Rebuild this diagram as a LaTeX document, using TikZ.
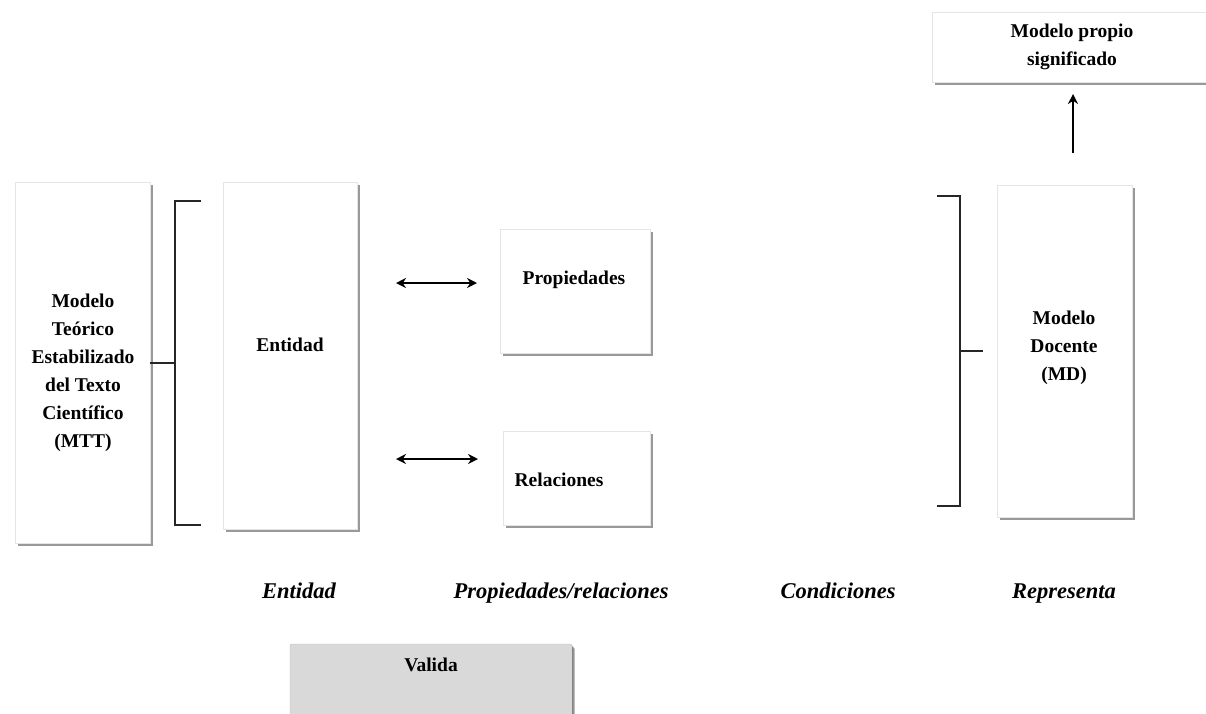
\documentclass[tikz,border=0pt]{standalone}
\usepackage{fontspec}
\setmainfont{Liberation Serif}
\usetikzlibrary{arrows.meta,shadows}
\definecolor{validagray}{HTML}{D9D9D9}
\tikzset{
  box/.style={draw=black!10, line width=0.4pt, fill=white, anchor=north west, inner sep=0pt, outer sep=0pt,
    drop shadow={shadow xshift=2.5pt, shadow yshift=-3pt, fill=black, opacity=0.4}},
  txt/.style={font=\bfseries\fontsize{19.5}{28}\selectfont, align=center, inner sep=0pt},
  lab/.style={font=\bfseries\itshape\fontsize{22.5}{26}\selectfont, inner sep=0pt, anchor=base},
  brk/.style={draw=black!85, line width=1.3pt},
  dbl/.style={line width=2.2pt, {Stealth[length=10pt,width=10pt]}-{Stealth[length=10pt,width=10pt]}},
  upar/.style={line width=2.2pt, -{Stealth[length=10pt,width=10pt]}}
}
\begin{document}
\begin{tikzpicture}[x=1pt,y=-1pt]
\clip (0,0) rectangle (1206,713);
\fill[white] (0,0) rectangle (1206,713);
% boxes
\node[box, minimum width=135pt, minimum height=361pt] (mtt) at (15,182) {};
\node[box, minimum width=134pt, minimum height=347pt] (ent) at (223,182) {};
\node[box, minimum width=150pt, minimum height=124pt] (prop) at (500,229) {};
\node[box, minimum width=147pt, minimum height=94pt] (rel) at (503,431) {};
\node[box, minimum width=135pt, minimum height=332pt] (md) at (997,185) {};
\node[box, minimum width=290pt, minimum height=70pt] (mps) at (932,12) {};
\node[box, fill=validagray, draw=black!25, rounded corners=2pt, minimum width=282pt, minimum height=100pt,
  drop shadow={shadow xshift=1.2pt, shadow yshift=-1.2pt, fill=black, opacity=0.25}] (val) at (290,644) {};
% texts
\node[txt] (tmtt) at (83,373) {Modelo\\Teórico\\Estabilizado\\del Texto\\Científico\\(MTT)};
\node[txt] (tent) at (290,345) {Entidad};
\node[txt] (tprop) at (574,280) {Propiedades};
\node[txt] (trel) at (559,480) {Relaciones};
\node[txt] (tmd) at (1064,348) {Modelo\\Docente\\(MD)};
\node[txt] (tmps) at (1072,47) {Modelo propio\\significado};
\node[txt] (tval) at (431,665) {Valida};
% bottom labels
\node[lab] (l1) at (299,598) {Entidad};
\node[lab] (l2) at (561,598) {Propiedades/relaciones};
\node[lab] (l3) at (838,598) {Condiciones};
\node[lab] (l4) at (1064,598) {Representa};
% left bracket
\coordinate (lbt) at (201,201);
\coordinate (lbv1) at (175,201);
\coordinate (lbv2) at (175,525);
\coordinate (lbb) at (201,525);
\coordinate (lbm) at (175,363);
\draw[brk] (lbt) -- (lbv1) -- (lbv2) -- (lbb);
\draw[brk] (mtt.east |- lbm) -- (lbm);
% right bracket
\coordinate (rbt) at (937,196);
\coordinate (rbv1) at (960,196);
\coordinate (rbv2) at (960,506);
\coordinate (rbb) at (937,506);
\coordinate (rbm) at (960,351);
\coordinate (rbs) at (983,351);
\draw[brk] (rbt) -- (rbv1) -- (rbv2) -- (rbb);
\draw[brk] (rbm) -- (rbs);
% double arrows
\coordinate (a1s) at (396,283);
\coordinate (a1e) at (477,283);
\coordinate (a2s) at (396,459);
\coordinate (a2e) at (478,459);
\draw[dbl] (a1s) -- (a1e);
\draw[dbl] (a2s) -- (a2e);
% up arrow
\coordinate (ups) at (1073,153);
\coordinate (upe) at (1073,94);
\draw[upar] (ups) -- (upe);
\end{tikzpicture}
\end{document}
